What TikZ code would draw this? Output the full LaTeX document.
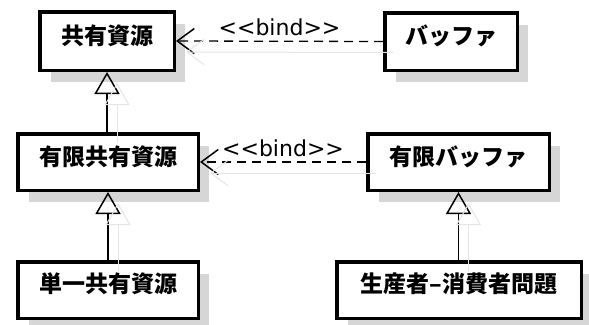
\documentclass[tikz,border=0pt]{standalone}
\usepackage{fontspec}
\newfontfamily\jp{Noto Sans CJK JP}
\newfontfamily\dv{DejaVu Sans}
\usetikzlibrary{arrows.meta,shadows,calc}
\begin{document}
\begin{tikzpicture}[x=1pt,y=-1pt,
  cls/.style={draw=black, line width=3.5pt, fill=white, inner sep=0pt,
    drop shadow={shadow xshift=11pt, shadow yshift=-12pt, fill=black!16, opacity=1}},
  jptext/.style={font=\jp\bfseries\fontsize{23}{23}\selectfont, inner sep=0pt, anchor=base},
  gen/.style={draw=black, line width=1.8pt, -{Triangle[open, length=22pt, width=25pt, line width=1.5pt]}},
  bind/.style={draw=black, line width=1.3pt, dash pattern=on 9pt off 6pt,
    -{Straight Barb[length=17pt, width=25pt, line width=1.5pt]}},
  bindlbl/.style={font=\dv\fontsize{22}{22}\selectfont, inner sep=0pt, anchor=base, yshift=5.5pt},
  ghost/.style={draw=black!10, line width=1pt}
]
\useasboundingbox (0,0) rectangle (589,324);
% boxes
\node[cls, minimum width=134.5pt, minimum height=58.5pt] (res) at (107,41) {};
\node[cls, minimum width=132.5pt, minimum height=57.5pt] (buf) at (451,41.5) {};
\node[cls, minimum width=180.5pt, minimum height=56.5pt] (bres) at (108,162) {};
\node[cls, minimum width=181.5pt, minimum height=56.5pt] (bbuf) at (458.5,162) {};
\node[cls, minimum width=180.5pt, minimum height=56.5pt] (single) at (108,290) {};
\node[cls, minimum width=244.5pt, minimum height=56.5pt] (pc) at (459,290) {};
% texts
\node[jptext] (res-t) at ($(res.north)+(0,34)$) {共有資源};
\node[jptext] (buf-t) at ($(buf.north)+(0,33)$) {バッファ};
\node[jptext] (bres-t) at ($(bres.north)+(0,33.5)$) {有限共有資源};
\node[jptext] (bbuf-t) at ($(bbuf.north)+(0,33.5)$) {有限バッファ};
\node[jptext] (single-t) at ($(single.north)+(0,32)$) {単一共有資源};
\node[jptext] (pc-t) at ($(pc.north)+(0,32.5)$) {生産者–消費者問題};
% generalizations
\draw[gen] (bres.north -| res.south) -- (res.south);
\draw[gen] (single.north -| bres.south) -- (bres.south);
\draw[gen] (pc.north -| bbuf.south) -- (bbuf.south);
% bindings
\draw[bind] (buf.west) -- node[bindlbl] (lbl1) {<{}<bind>{}>} (res.east);
\draw[bind] (bbuf.west) -- node[bindlbl] (lbl2) {<{}<bind>{}>} (bres.east);
% faint connector shadows
\draw[ghost, -{Triangle[open, length=22pt, width=25pt, line width=1pt]}] ($(bres.north -| res.south)+(10,11)$) -- ($(res.south)+(10,11)$);
\draw[ghost, -{Triangle[open, length=22pt, width=25pt, line width=1pt]}] ($(single.north -| bres.south)+(10,11)$) -- ($(bres.south)+(10,11)$);
\draw[ghost, -{Triangle[open, length=22pt, width=25pt, line width=1pt]}] ($(pc.north -| bbuf.south)+(10,11)$) -- ($(bbuf.south)+(10,11)$);
\draw[ghost, -{Straight Barb[length=17pt, width=25pt, line width=1pt]}] ($(buf.west)+(10,11)$) -- ($(res.east)+(10,11)$);
\draw[ghost, -{Straight Barb[length=17pt, width=25pt, line width=1pt]}] ($(bbuf.west)+(10,11)$) -- ($(bres.east)+(10,11)$);
\end{tikzpicture}
\end{document}
